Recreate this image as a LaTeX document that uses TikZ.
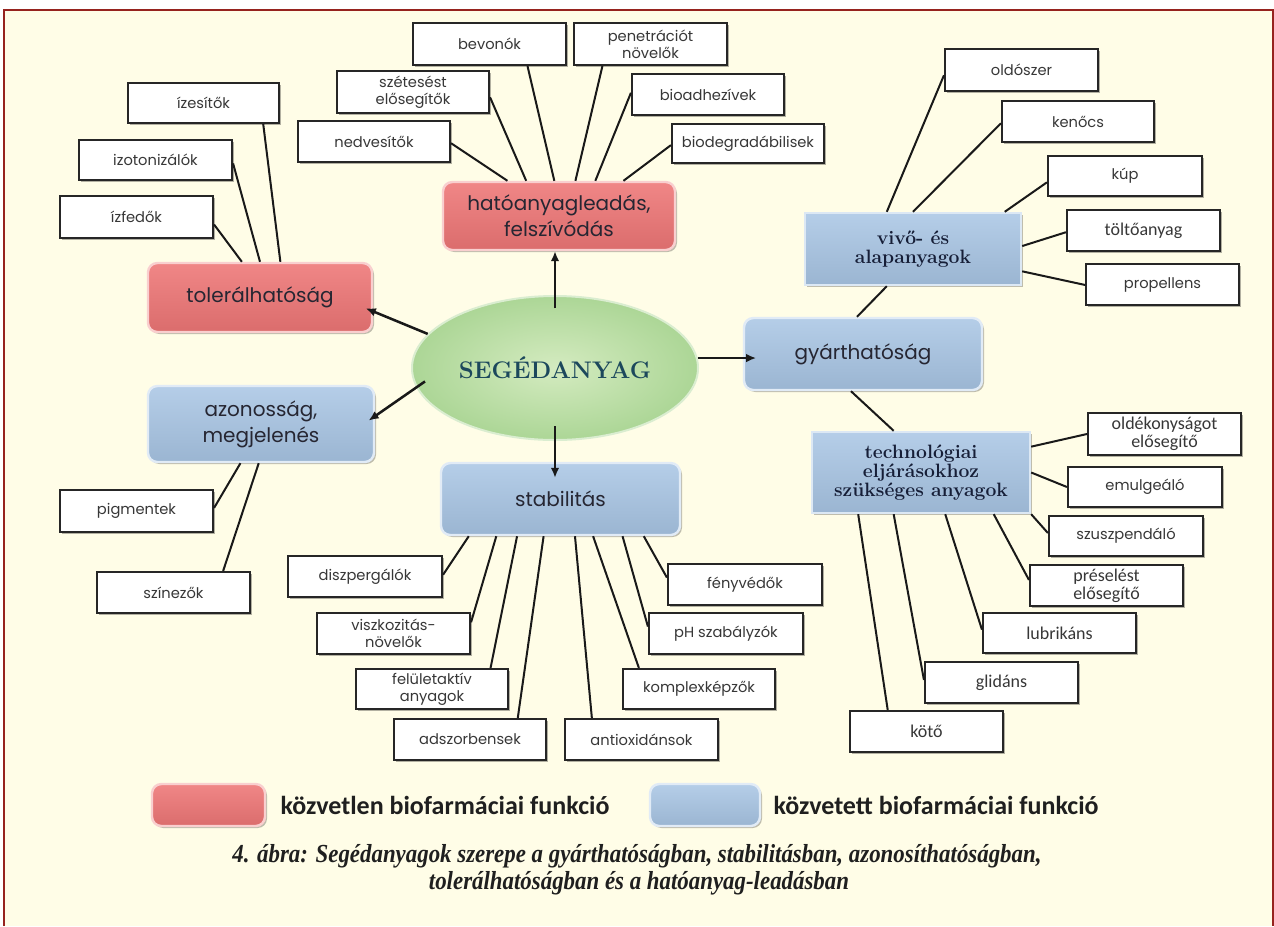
\documentclass[tikz,border=0pt]{standalone}
\usepackage{fontspec}
\usepackage{graphicx}
\newfontfamily\geo{Poppins}
\newfontfamily\cali{Carlito}
\newfontfamily\capfont{Liberation Serif}
\usetikzlibrary{shadows,calc,arrows.meta,shapes.geometric}

\definecolor{bg}{RGB}{255,253,231}
\definecolor{frame}{RGB}{150,35,30}
\definecolor{redbox}{RGB}{238,118,118}
\definecolor{bluebox}{RGB}{168,197,228}
\definecolor{ellin}{RGB}{212,235,192}
\definecolor{ellout}{RGB}{172,214,150}
\definecolor{segtext}{RGB}{28,72,92}
\definecolor{boxtext}{RGB}{55,55,55}
\definecolor{maintext}{RGB}{38,38,50}
\definecolor{headtext}{RGB}{22,30,55}

% box given by its pixel corners: style, name, x1, y1, x2, y2, text
\newcommand\boxat[7]{\node[#1, minimum width={(#5-#3)*0.75pt}, minimum height={(#6-#4)*0.75pt}] (#2) at ({(#3+#5)/2},{(#4+#6)/2}) {#7};}

\begin{document}
\begin{tikzpicture}[x=0.75pt,y=-0.75pt,
  leaf/.style={draw=black!85, line width=1.6pt, fill=white, inner sep=0.5pt,
    font=\geo\fontsize{11}{13}\selectfont, text=boxtext, align=center,
    drop shadow={shadow xshift=1.2pt, shadow yshift=-1.2pt, opacity=0.3, fill=black}},
  leafc/.style={leaf, font=\cali\fontsize{13.5}{13.5}\selectfont},
  redmain/.style={rounded corners=7pt, draw=white!65!redbox, line width=1.8pt,
    top color=redbox!88!white, bottom color=redbox!92!black, inner sep=2pt,
    font=\geo\fontsize{15}{19.5}\selectfont, text=maintext, align=center,
    drop shadow={shadow xshift=1.5pt, shadow yshift=-1.5pt, opacity=0.25, fill=black}},
  bluemain/.style={redmain, draw=white!65!bluebox,
    top color=bluebox!85!white, bottom color=bluebox!92!black},
  bluesq/.style={draw=white!60!bluebox, line width=1.8pt,
    top color=bluebox!85!white, bottom color=bluebox!92!black, inner sep=2pt,
    font=\bfseries\fontsize{14.5}{14.5}\selectfont, text=headtext, align=center,
    drop shadow={shadow xshift=1.5pt, shadow yshift=-1.5pt, opacity=0.25, fill=black}},
  conn/.style={line width=1.5pt, black!90},
  arr/.style={line width=1.9pt, black!90, -{Latex[length=7.5pt,width=6.5pt]}}]

\useasboundingbox (0,0) rectangle (1274,926);
\fill[white] (0,0) rectangle (1274,926);
\fill[bg] (4,10) rectangle (1273,926);
\draw[frame, line width=1.5pt] (4,926) -- (4,10) -- (1273,10) -- (1273,926);

% central ellipse
\node[ellipse, minimum width={286*0.75pt}, minimum height={144*0.75pt},
  inner color=ellin, outer color=ellout, draw=white!55!ellout, line width=1.5pt,
  font=\bfseries\fontsize{18}{18}\selectfont, text=segtext] (seg) at (555,368) {SEGÉDANYAG};

% tolerability
\boxat{leaf}{izes}{128}{83}{279}{123}{ízesítők}
\boxat{leaf}{izot}{79}{140}{232}{180}{izotonizálók}
\boxat{leaf}{izfe}{60}{196}{213}{238}{ízfedők}
\boxat{redmain}{tol}{148}{263}{372}{332}{tolerálhatóság}

% release and absorption
\boxat{leaf}{bevo}{413}{23}{566}{65}{bevonók}
\boxat{leaf}{pene}{574}{23}{727}{65}{penetrációt\\növelők}
\boxat{leaf}{szet}{337}{71}{489}{113}{szétesést\\elősegítők}
\boxat{leaf}{nedv}{298}{121}{450}{162}{nedvesítők}
\boxat{leaf}{bioa}{632}{74}{784}{115}{bioadhezívek}
\boxat{leaf}{biod}{672}{124}{824}{163}{biodegradábilisek}
\boxat{redmain}{hat}{443}{182}{675}{250}{hatóanyagleadás,\\felszívódás}

% carriers and bases
\boxat{leaf}{olds}{945}{49}{1098}{91}{oldószer}
\boxat{leaf}{keno}{1002}{101}{1154}{142}{kenőcs}
\boxat{leaf}{kup}{1048}{156}{1202}{196}{kúp}
\boxat{leafc}{tolt}{1067}{210}{1220}{251}{töltőanyag}
\boxat{leaf}{prop}{1086}{264}{1239}{305}{propellens}
\boxat{bluesq}{vivo}{805}{213}{1021}{285}{vivő- és\\alapanyagok}
\boxat{bluemain}{gya}{744}{318}{982}{390}{gyárthatóság}

% technological aids
\boxat{bluesq}{tech}{812}{432}{1030}{513}{technológiai\\eljárásokhoz\\szükséges anyagok}
\boxat{leafc}{olde}{1088}{413}{1241}{455}{oldékonyságot\\elősegítő}
\boxat{leaf}{emul}{1068}{467}{1222}{507}{emulgeáló}
\boxat{leaf}{szus}{1049}{516}{1203}{556}{szuszpendáló}
\boxat{leafc}{pres}{1030}{565}{1183}{606}{préselést\\elősegítő}
\boxat{leafc}{lubr}{983}{613}{1136}{653}{lubrikáns}
\boxat{leafc}{glid}{925}{662}{1078}{703}{glidáns}
\boxat{leafc}{koto}{850}{711}{1003}{752}{kötő}

% identity and appearance
\boxat{bluemain}{azo}{148}{386}{374}{462}{azonosság,\\megjelenés}
\boxat{leaf}{pigm}{60}{490}{213}{532}{pigmentek}
\boxat{leaf}{szin}{97}{572}{250}{613}{színezők}

% stability
\boxat{bluemain}{stab}{441}{463}{680}{535}{stabilitás}
\boxat{leaf}{disz}{288}{556}{442}{597}{diszpergálók}
\boxat{leaf}{visz}{317}{613}{470}{654}{viszkozitás-\\növelők}
\boxat{leaf}{felu}{356}{669}{508}{709}{felületaktív\\anyagok}
\boxat{leaf}{adsz}{394}{719}{546}{760}{adszorbensek}
\boxat{leaf}{anti}{565}{719}{718}{760}{antioxidánsok}
\boxat{leaf}{komp}{623}{669}{775}{709}{komplexképzők}
\boxat{leaf}{phsz}{649}{613}{803}{654}{pH szabályzók}
\boxat{leaf}{feny}{668}{564}{822}{605}{fényvédők}

% arrows out of the centre
\draw[arr, shorten >=-6pt] (seg.165) -- (tol.-7);
\draw[arr, shorten <=-8pt, shorten >=-6pt] (seg.188) -- (azo.4);
\draw[arr, shorten <=-10pt] (seg.north) -- (seg.north |- hat.south);
\draw[arr, shorten >=-10pt] (seg.4) -- (seg.4 -| gya.west);
\draw[arr, shorten <=-11pt, shorten >=-12pt] (seg.south) -- (seg.south |- stab.north);

% tolerability links
\draw[conn] ($(izes.south west)!0.89!(izes.south east)$) -- ($(tol.north west)!0.59!(tol.north east)$);
\draw[conn] ($(izot.north east)!0.58!(izot.south east)$) -- ($(tol.north west)!0.5!(tol.north east)$);
\draw[conn] ($(izfe.north east)!0.67!(izfe.south east)$) -- ($(tol.north west)!0.42!(tol.north east)$);

% release links
\draw[conn] ($(nedv.north east)!0.54!(nedv.south east)$) -- ($(hat.north west)!0.28!(hat.north east)$);
\draw[conn] ($(szet.north east)!0.62!(szet.south east)$) -- ($(hat.north west)!0.36!(hat.north east)$);
\draw[conn] ($(bevo.south west)!0.745!(bevo.south east)$) -- ($(hat.north west)!0.48!(hat.north east)$);
\draw[conn] ($(pene.south west)!0.19!(pene.south east)$) -- ($(hat.north west)!0.57!(hat.north east)$);
\draw[conn] ($(bioa.north west)!0.46!(bioa.south west)$) -- ($(hat.north west)!0.655!(hat.north east)$);
\draw[conn] ($(biod.north west)!0.54!(biod.south west)$) -- ($(hat.north west)!0.775!(hat.north east)$);

% carrier links
\draw[conn] ($(olds.north west)!0.62!(olds.south west)$) -- ($(vivo.north west)!0.38!(vivo.north east)$);
\draw[conn] ($(keno.north west)!0.54!(keno.south west)$) -- ($(vivo.north west)!0.5!(vivo.north east)$);
\draw[conn] ($(kup.north west)!0.65!(kup.south west)$) -- ($(vivo.north west)!0.92!(vivo.north east)$);
\draw[conn] ($(tolt.north west)!0.54!(tolt.south west)$) -- ($(vivo.north east)!0.46!(vivo.south east)$);
\draw[conn] ($(prop.north west)!0.51!(prop.south west)$) -- ($(vivo.north east)!0.8!(vivo.south east)$);
\draw[conn] ($(vivo.south west)!0.38!(vivo.south east)$) -- ($(gya.north west)!0.475!(gya.north east)$);

% technology links
\draw[conn] ($(gya.south west)!0.45!(gya.south east)$) -- ($(tech.north west)!0.376!(tech.north east)$);
\draw[conn] ($(olde.north west)!0.5!(olde.south west)$) -- ($(tech.north east)!0.19!(tech.south east)$);
\draw[conn] ($(emul.north west)!0.5!(emul.south west)$) -- ($(tech.north east)!0.5!(tech.south east)$);
\draw[conn] ($(szus.north west)!0.43!(szus.south west)$) -- (tech.south east);
\draw[conn] ($(pres.north west)!0.37!(pres.south west)$) -- ($(tech.south west)!0.83!(tech.south east)$);
\draw[conn] ($(lubr.north west)!0.42!(lubr.south west)$) -- ($(tech.south west)!0.61!(tech.south east)$);
\draw[conn] ($(glid.north west)!0.44!(glid.south west)$) -- ($(tech.south west)!0.376!(tech.south east)$);
\draw[conn] ($(koto.north west)!0.25!(koto.north east)$) -- ($(tech.south west)!0.215!(tech.south east)$);

% identity links
\draw[conn] ($(pigm.north east)!0.43!(pigm.south east)$) -- ($(azo.south west)!0.41!(azo.south east)$);
\draw[conn] ($(szin.north west)!0.82!(szin.north east)$) -- ($(azo.south west)!0.49!(azo.south east)$);

% stability links
\draw[conn] ($(disz.north east)!0.46!(disz.south east)$) -- ($(stab.south west)!0.12!(stab.south east)$);
\draw[conn] ($(visz.north east)!0.24!(visz.south east)$) -- ($(stab.south west)!0.234!(stab.south east)$);
\draw[conn] ($(felu.north west)!0.88!(felu.north east)$) -- ($(stab.south west)!0.32!(stab.south east)$);
\draw[conn] ($(adsz.north west)!0.81!(adsz.north east)$) -- ($(stab.south west)!0.43!(stab.south east)$);
\draw[conn] ($(anti.north west)!0.18!(anti.north east)$) -- ($(stab.south west)!0.56!(stab.south east)$);
\draw[conn] ($(komp.north west)!0.11!(komp.north east)$) -- ($(stab.south west)!0.635!(stab.south east)$);
\draw[conn] ($(phsz.north west)!0.34!(phsz.south west)$) -- ($(stab.south west)!0.757!(stab.south east)$);
\draw[conn] ($(feny.north west)!0.34!(feny.south west)$) -- ($(stab.south west)!0.845!(stab.south east)$);

% legend
\boxat{redmain}{lgr}{152}{784}{265}{826}{}
\node[anchor=west, font=\cali\bfseries\fontsize{19.5}{19.5}\selectfont, text=black!88] (lgrt) at (276,805) {közvetlen biofarmáciai funkció};
\boxat{bluemain}{lgb}{650}{784}{760}{826}{}
\node[anchor=west, font=\cali\bfseries\fontsize{19.5}{19.5}\selectfont, text=black!88] (lgbt) at (769,805) {közvetett biofarmáciai funkció};

% caption
\node[font=\capfont\bfseries\itshape\fontsize{19.5}{19.5}\selectfont, text=black!88] (cap1) at (637,856)
  {\scalebox{0.88}[1]{4. ábra: Segédanyagok szerepe a gyárthatóságban, stabilitásban, azonosíthatóságban,}};
\node[font=\capfont\bfseries\itshape\fontsize{19.5}{19.5}\selectfont, text=black!88] (cap2) at (639,883)
  {\scalebox{0.88}[1]{tolerálhatóságban és a hatóanyag-leadásban}};
\end{tikzpicture}
\end{document}
